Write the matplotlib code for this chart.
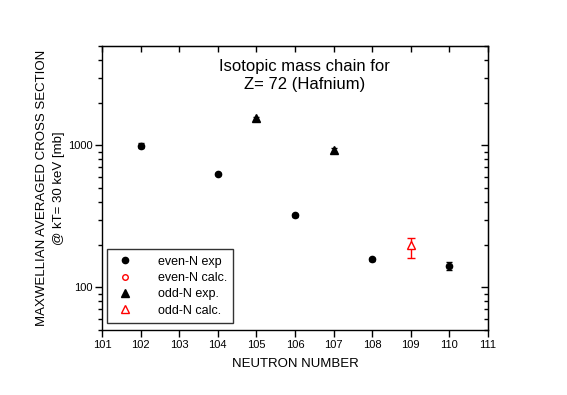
import numpy as np
import matplotlib
matplotlib.use('Agg')
import matplotlib.pyplot as plt
from matplotlib.lines import Line2D
from matplotlib.ticker import LogLocator, NullFormatter, FixedLocator

plt.rcParams['font.family'] = ['Liberation Sans', 'DejaVu Sans']

even_n = [102, 104, 106, 108, 110]
even_sig = [990, 626, 321, 157, 141]
even_err = [40, 12, 8, 4, 9]

odd_n = [105, 107]
odd_sig = [1544, 922]
odd_err = [40, 30]

odd_calc_n = [109]
odd_calc_sig = [198]
odd_calc_lo = [37]
odd_calc_hi = [24]

fig = plt.figure(figsize=(5.67, 3.95), dpi=100)
ax = fig.add_axes([102 / 567, 65 / 395, 386 / 567, 284 / 395])
ax.set_yscale('log')

ax.errorbar(even_n, even_sig, yerr=even_err, fmt='o', color='black', ms=4.5,
            capsize=2.5, elinewidth=1)
ax.errorbar(odd_n, odd_sig, yerr=odd_err, fmt='^', color='black', ms=5.5,
            capsize=2.5, elinewidth=1)
ax.errorbar(odd_calc_n, odd_calc_sig, yerr=[odd_calc_lo, odd_calc_hi], fmt='^',
            mfc='white', mec='red', ecolor='red', ms=6, mew=1, capsize=3,
            elinewidth=1)

ax.set_xlim(101, 111)
ax.set_ylim(50, 5000)
ax.xaxis.set_major_locator(FixedLocator(np.arange(101, 112)))
ax.yaxis.set_major_locator(FixedLocator([100, 1000]))
ax.yaxis.set_minor_locator(LogLocator(base=10, subs=np.arange(2, 10)))
ax.yaxis.set_minor_formatter(NullFormatter())
ax.set_yticklabels(['100', '1000'])

ax.tick_params(axis='both', which='major', direction='out', length=5, width=1,
               labelsize=8, pad=2)
ax.tick_params(axis='y', which='minor', direction='out', length=3, width=1)
for s in ax.spines.values():
    s.set_linewidth(1)

sec_y = ax.secondary_yaxis('right')
sec_y.yaxis.set_major_locator(FixedLocator([100, 1000]))
sec_y.yaxis.set_minor_locator(LogLocator(base=10, subs=np.arange(2, 10)))
sec_y.tick_params(which='major', direction='in', length=5, width=1, labelright=False)
sec_y.tick_params(which='minor', direction='in', length=3, width=1)
sec_y.yaxis.set_minor_formatter(NullFormatter())

sec_x = ax.secondary_xaxis('top')
sec_x.xaxis.set_major_locator(FixedLocator(np.arange(101, 112)))
sec_x.tick_params(direction='in', length=4, width=1, labeltop=False)

ax.set_xlabel('NEUTRON NUMBER', fontsize=9.5, labelpad=6)
ax.set_ylabel('MAXWELLIAN AVERAGED CROSS SECTION\n@ kT= 30 keV [mb]',
              fontsize=9.5, linespacing=1.5, labelpad=2)

ax.text(0.525, 0.955, 'Isotopic mass chain for\nZ= 72 (Hafnium)',
        transform=ax.transAxes, ha='center', va='top', fontsize=12,
        linespacing=1.3)

handles = [
    Line2D([], [], ls='none', marker='o', color='black', ms=4.5),
    Line2D([], [], ls='none', marker='o', mfc='none', mec='red', ms=4, mew=1),
    Line2D([], [], ls='none', marker='^', color='black', ms=5.5),
    Line2D([], [], ls='none', marker='^', mfc='none', mec='red', ms=6, mew=1),
]
labels = ['even-N exp', 'even-N calc.', 'odd-N exp.', 'odd-N calc.']
leg = ax.legend(handles, labels, loc='lower left', bbox_to_anchor=(0.012, 0.025),
                fontsize=9, frameon=True, fancybox=False, edgecolor='black',
                handletextpad=1.6, borderpad=0.5, labelspacing=0.35,
                handlelength=2.0, borderaxespad=0)
leg.get_frame().set_linewidth(1)

fig.savefig('out.png', dpi=100)
